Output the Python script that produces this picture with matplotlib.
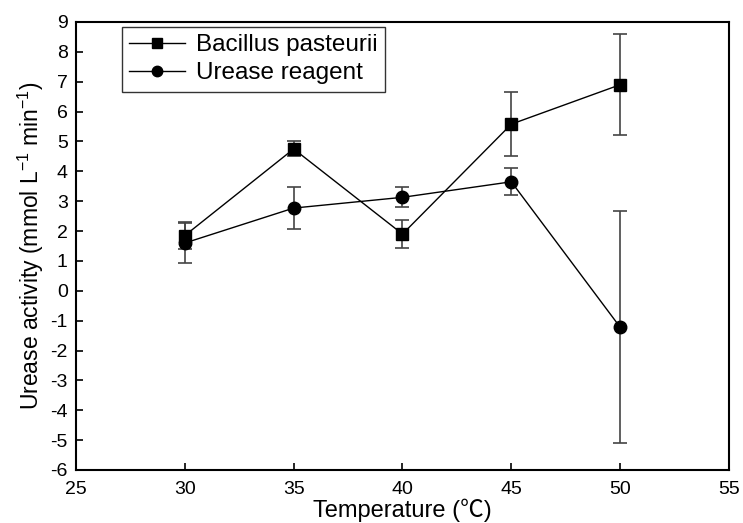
import numpy as np
import matplotlib.pyplot as plt
from matplotlib.lines import Line2D

temps = [30, 35, 40, 45, 50]

# Bacillus pasteurii
bp_mean = [1.85, 4.75, 1.90, 5.58, 6.90]
bp_err = [0.45, 0.25, 0.47, 1.08, 1.70]

# urease reagent
ur_mean = [1.60, 2.77, 3.13, 3.65, -1.22]
ur_err = [0.67, 0.70, 0.33, 0.45, 3.88]

plt.rcParams['font.family'] = ['Liberation Sans', 'Noto Sans CJK SC', 'DejaVu Sans']
plt.rcParams['axes.unicode_minus'] = False
plt.rcParams['mathtext.fontset'] = 'custom'
plt.rcParams['mathtext.rm'] = 'Liberation Sans'

fig = plt.figure(figsize=(7.43, 5.23), dpi=100)
ax = fig.add_axes([76/743, 53/523, 653/743, 448/523])

ax.errorbar(temps, bp_mean, yerr=bp_err, color='black', marker='s', ms=8,
            lw=1, ecolor='#444444', elinewidth=1.2, capsize=5, capthick=1.2)
ax.errorbar(temps, ur_mean, yerr=ur_err, color='black', marker='o', ms=9,
            lw=1, ecolor='#444444', elinewidth=1.2, capsize=5, capthick=1.2)

ax.set_xlim(25, 55)
ax.set_ylim(-6, 9)
ax.set_xticks(np.arange(25, 56, 5))
ax.set_yticks(np.arange(-6, 10, 1))
ax.tick_params(direction='in', length=5, width=1.2, labelsize=14)
ax.tick_params(axis='y', pad=6)
ax.tick_params(axis='x', pad=8)
for s in ax.spines.values():
    s.set_linewidth(1.5)

ax.set_xlabel('Temperature (℃)', fontsize=17, labelpad=0)
ax.set_ylabel('Urease activity (mmol L$^{\\mathregular{-1}}$ min$^{\\mathregular{-1}}$)',
              fontsize=16.5, labelpad=3)

# legend without error bars in the handles
handles = [Line2D([], [], color='black', lw=1, marker='s', ms=7),
           Line2D([], [], color='black', lw=1, marker='o', ms=7.5)]
leg = ax.legend(handles, ['Bacillus pasteurii', 'Urease reagent'],
                loc='upper left', bbox_to_anchor=(0.0704, 0.989),
                borderaxespad=0, fontsize=17.5, frameon=True, fancybox=False,
                edgecolor='black', handlelength=2.3, borderpad=0.3,
                labelspacing=0.25, handletextpad=0.45)
leg.get_frame().set_linewidth(1)

fig.savefig('out.png', dpi=100)
